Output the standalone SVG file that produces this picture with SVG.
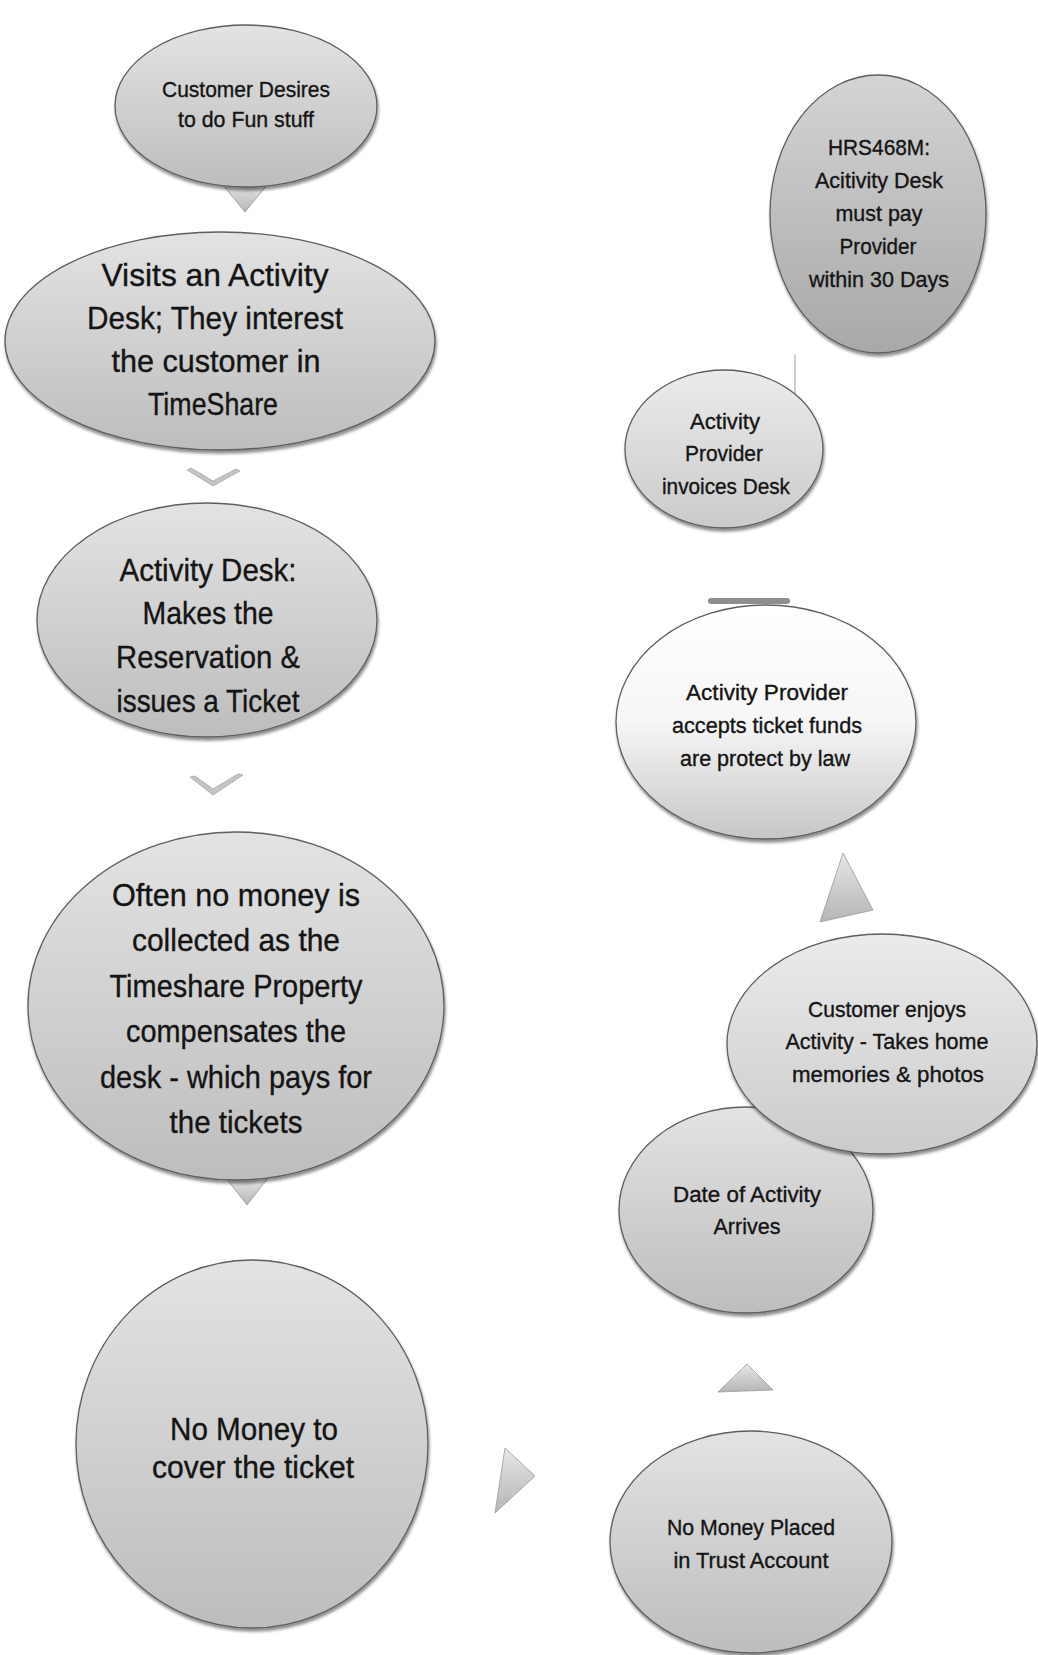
<svg xmlns="http://www.w3.org/2000/svg" width="1038" height="1655" viewBox="0 0 1038 1655">
  <defs>
    <linearGradient id="gFill" x1="0" y1="0" x2="0" y2="1">
      <stop offset="0" stop-color="#e3e3e3"/>
      <stop offset="1" stop-color="#bdbdbd"/>
    </linearGradient>
    <linearGradient id="gDark" x1="0" y1="0" x2="0" y2="1">
      <stop offset="0" stop-color="#d4d4d4"/>
      <stop offset="1" stop-color="#a8a8a8"/>
    </linearGradient>
    <linearGradient id="gLight" x1="0" y1="0" x2="0" y2="1">
      <stop offset="0" stop-color="#ebebeb"/>
      <stop offset="1" stop-color="#cbcbcb"/>
    </linearGradient>
    <linearGradient id="gWhite" x1="0" y1="0" x2="0" y2="1">
      <stop offset="0" stop-color="#ffffff"/>
      <stop offset="0.5" stop-color="#f6f6f6"/>
      <stop offset="1" stop-color="#c6c6c6"/>
    </linearGradient>
    <linearGradient id="gArrow" x1="0" y1="0" x2="0" y2="1">
      <stop offset="0" stop-color="#e6e6e6"/>
      <stop offset="1" stop-color="#b5b5b5"/>
    </linearGradient>
    <filter id="shadow" x="-10%" y="-10%" width="120%" height="125%">
      <feDropShadow dx="1" dy="3" stdDeviation="1.5" flood-color="#000" flood-opacity="0.45"/>
    </filter>
  </defs>
  <style>
    .node { stroke: #5e5e5e; stroke-width: 1.3; filter: url(#shadow); }
    .t { font-family: "Liberation Sans", Arial, sans-serif; fill: #141414; stroke: #141414; stroke-width: 0.35; text-anchor: middle; }
    .s { font-size: 22px; }
    .b { font-size: 32px; }
    .arrow { fill: url(#gArrow); stroke: #9a9a9a; stroke-width: 0.8; }
    .chev { fill: #c4c4c4; stroke: #a8a8a8; stroke-width: 0.8; }
  </style>
  <rect width="1038" height="1655" fill="#ffffff"/>

  <g id="connectors">
    <polygon class="arrow" points="222,184 268,184 245,212"/>
    <path class="chev" d="M187,470 L213,486 L240,471 L236,469 L213,481 L191,468 Z"/>
    <path class="chev" d="M190,777 L213,795 L243,775 L238,774 L213,789 L195,776 Z"/>
    <polygon class="arrow" points="226,1178 268,1178 247,1205"/>
    <polygon class="arrow" points="505,1448 535,1476 495,1513"/>
    <polygon class="arrow" points="747,1364 773,1390 718,1392"/>
    <polygon class="arrow" points="843,853 873,910 820,922"/>
    <rect x="708" y="598" width="82" height="6" rx="3" fill="#8e8e8e"/>
    <line x1="795" y1="354" x2="795" y2="400" stroke="#c2c2c2" stroke-width="1.5"/>
  </g>

  <g id="node1">
    <ellipse class="node" cx="246" cy="106" rx="131" ry="81" fill="url(#gFill)"/>
    <text class="t s" x="246" y="97" textLength="168" lengthAdjust="spacingAndGlyphs">Customer Desires</text>
    <text class="t s" x="246" y="127" textLength="136" lengthAdjust="spacingAndGlyphs">to do Fun stuff</text>
  </g>

  <g id="node2">
    <ellipse class="node" cx="220" cy="341" rx="215" ry="109" fill="url(#gFill)"/>
    <text class="t b" x="215" y="286" textLength="227" lengthAdjust="spacingAndGlyphs">Visits an Activity</text>
    <text class="t b" x="215" y="329" textLength="256" lengthAdjust="spacingAndGlyphs">Desk; They interest</text>
    <text class="t b" x="216" y="372" textLength="209" lengthAdjust="spacingAndGlyphs">the customer in</text>
    <text class="t b" x="213" y="415" textLength="130" lengthAdjust="spacingAndGlyphs">TimeShare</text>
  </g>

  <g id="node3">
    <ellipse class="node" cx="207" cy="620" rx="170" ry="117" fill="url(#gFill)"/>
    <text class="t b" x="208" y="581" textLength="177" lengthAdjust="spacingAndGlyphs">Activity Desk:</text>
    <text class="t b" x="208" y="624" textLength="131" lengthAdjust="spacingAndGlyphs">Makes the</text>
    <text class="t b" x="208" y="668" textLength="184" lengthAdjust="spacingAndGlyphs">Reservation &amp;</text>
    <text class="t b" x="208" y="712" textLength="183" lengthAdjust="spacingAndGlyphs">issues a Ticket</text>
  </g>

  <g id="node4">
    <ellipse class="node" cx="236" cy="1006" rx="208" ry="174" fill="url(#gFill)"/>
    <text class="t b" x="236" y="906" textLength="248" lengthAdjust="spacingAndGlyphs">Often no money is</text>
    <text class="t b" x="236" y="951" textLength="208" lengthAdjust="spacingAndGlyphs">collected as the</text>
    <text class="t b" x="236" y="997" textLength="253" lengthAdjust="spacingAndGlyphs">Timeshare Property</text>
    <text class="t b" x="236" y="1042" textLength="220" lengthAdjust="spacingAndGlyphs">compensates the</text>
    <text class="t b" x="236" y="1088" textLength="272" lengthAdjust="spacingAndGlyphs">desk - which pays for</text>
    <text class="t b" x="236" y="1133" textLength="133" lengthAdjust="spacingAndGlyphs">the tickets</text>
  </g>

  <g id="node5">
    <ellipse class="node" cx="252" cy="1444" rx="176" ry="184" fill="url(#gFill)"/>
    <text class="t b" x="254" y="1440" textLength="168" lengthAdjust="spacingAndGlyphs">No Money to</text>
    <text class="t b" x="253" y="1478" textLength="202" lengthAdjust="spacingAndGlyphs">cover the ticket</text>
  </g>

  <g id="node6">
    <ellipse class="node" cx="878" cy="214" rx="108" ry="139" fill="url(#gDark)"/>
    <text class="t s" x="879" y="155" textLength="102" lengthAdjust="spacingAndGlyphs">HRS468M:</text>
    <text class="t s" x="879" y="188" textLength="128" lengthAdjust="spacingAndGlyphs">Acitivity Desk</text>
    <text class="t s" x="879" y="221" textLength="87" lengthAdjust="spacingAndGlyphs">must pay</text>
    <text class="t s" x="878" y="254" textLength="77" lengthAdjust="spacingAndGlyphs">Provider</text>
    <text class="t s" x="879" y="287" textLength="140" lengthAdjust="spacingAndGlyphs">within 30 Days</text>
  </g>

  <g id="node7">
    <ellipse class="node" cx="724" cy="449" rx="99" ry="79" fill="url(#gLight)"/>
    <text class="t s" x="725" y="429" textLength="70" lengthAdjust="spacingAndGlyphs">Activity</text>
    <text class="t s" x="724" y="461" textLength="78" lengthAdjust="spacingAndGlyphs">Provider</text>
    <text class="t s" x="726" y="494" textLength="128" lengthAdjust="spacingAndGlyphs">invoices Desk</text>
  </g>

  <g id="node8">
    <ellipse class="node" cx="766" cy="722" rx="150" ry="117" fill="url(#gWhite)"/>
    <text class="t s" x="767" y="700" textLength="162" lengthAdjust="spacingAndGlyphs">Activity Provider</text>
    <text class="t s" x="767" y="733" textLength="190" lengthAdjust="spacingAndGlyphs">accepts ticket funds</text>
    <text class="t s" x="765" y="766" textLength="170" lengthAdjust="spacingAndGlyphs">are protect by law</text>
  </g>

  <g id="node10">
    <ellipse class="node" cx="746" cy="1210" rx="127" ry="103" fill="url(#gFill)"/>
    <text class="t s" x="747" y="1202" textLength="148" lengthAdjust="spacingAndGlyphs">Date of Activity</text>
    <text class="t s" x="747" y="1234" textLength="67" lengthAdjust="spacingAndGlyphs">Arrives</text>
  </g>

  <g id="node9">
    <ellipse class="node" cx="882" cy="1044" rx="155" ry="110" fill="url(#gLight)"/>
    <text class="t s" x="887" y="1017" textLength="158" lengthAdjust="spacingAndGlyphs">Customer enjoys</text>
    <text class="t s" x="887" y="1049" textLength="203" lengthAdjust="spacingAndGlyphs">Activity - Takes home</text>
    <text class="t s" x="888" y="1082" textLength="192" lengthAdjust="spacingAndGlyphs">memories &amp; photos</text>
  </g>

  <g id="node11">
    <ellipse class="node" cx="751" cy="1542" rx="141" ry="111" fill="url(#gFill)"/>
    <text class="t s" x="751" y="1535" textLength="168" lengthAdjust="spacingAndGlyphs">No Money Placed</text>
    <text class="t s" x="751" y="1568" textLength="155" lengthAdjust="spacingAndGlyphs">in Trust Account</text>
  </g>
</svg>
